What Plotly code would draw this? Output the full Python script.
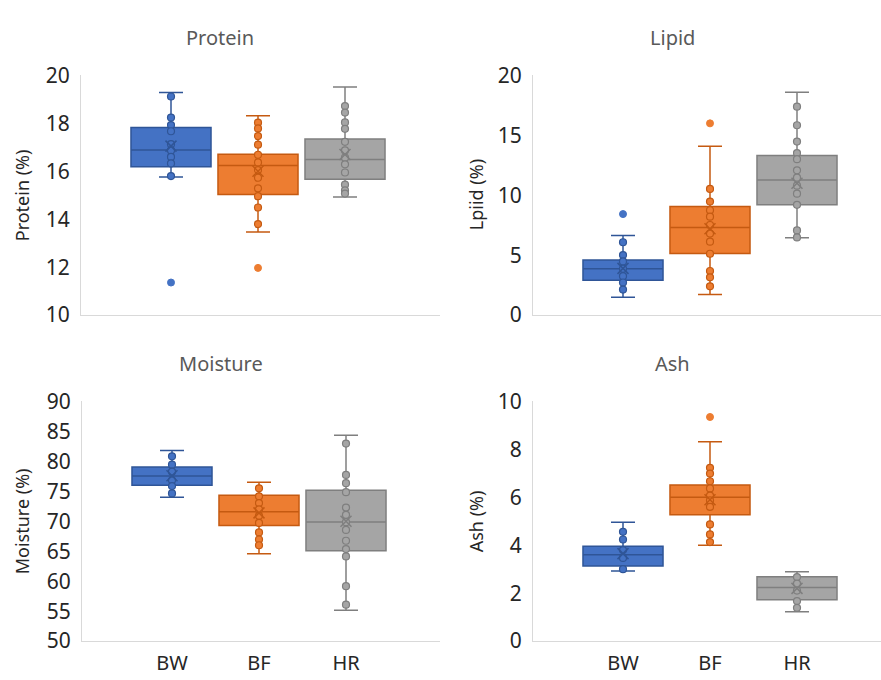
import plotly.graph_objects as go

groups = ["BW", "BF", "HR"]
fill_colors = ["#4472C4", "#ED7D31", "#A5A5A5"]
line_colors = ["#2F5597", "#C55A11", "#7F7F7F"]

# ---- Protein ----
protein_lower = [15.76, 13.47, 14.93]
protein_q1 = [16.19, 15.03, 15.67]
protein_median = [16.89, 16.24, 16.49]
protein_q3 = [17.83, 16.71, 17.35]
protein_upper = [19.29, 18.32, 19.52]
protein_mean = [17.05, 16.0, 16.7]
protein_bw = [19.12, 18.24, 17.93, 17.67, 17.13, 16.87, 16.6, 16.33, 15.8]
protein_bf = [18.03, 17.79, 17.47, 17.11, 16.69, 16.37, 16.05, 15.73, 15.29, 14.96, 14.49, 13.8]
protein_hr = [18.72, 18.45, 18.04, 17.77, 17.23, 16.87, 16.57, 16.29, 15.95, 15.44, 15.2, 15.07]
protein_outliers = [[11.36], [11.97], []]

# ---- Lipid ----
lipid_lower = [1.49, 1.71, 6.45]
lipid_q1 = [2.91, 5.15, 9.2]
lipid_median = [3.87, 7.31, 11.28]
lipid_q3 = [4.59, 9.07, 13.31]
lipid_upper = [6.64, 14.08, 18.59]
lipid_mean = [3.9, 7.2, 11.0]
lipid_bw = [6.08, 5.01, 4.48, 3.87, 3.25, 2.72, 2.13]
lipid_bf = [10.53, 9.47, 8.75, 8.21, 7.52, 6.8, 6.13, 5.12, 3.68, 3.15, 2.4]
lipid_hr = [17.39, 15.84, 14.48, 13.52, 13.01, 12.08, 11.47, 10.8, 10.13, 9.2, 7.07, 6.48]
lipid_outliers = [[8.43], [16.0], []]

# ---- Moisture ----
moisture_lower = [74.0, 64.56, 55.17]
moisture_q1 = [76.03, 69.31, 65.09]
moisture_median = [77.57, 71.6, 69.89]
moisture_q3 = [79.07, 74.32, 75.17]
moisture_upper = [81.79, 76.51, 84.35]
moisture_mean = [77.6, 71.4, 70.0]
moisture_bw = [80.83, 79.44, 78.27, 76.83, 75.87, 74.64]
moisture_bf = [75.49, 74.16, 73.04, 71.97, 70.91, 69.73, 68.13, 66.96, 66.0]
moisture_hr = [82.96, 77.73, 76.35, 74.85, 72.29, 71.07, 69.84, 68.56, 66.75, 65.36, 64.13, 59.17, 56.08]
moisture_outliers = [[], [], []]

# ---- Ash ----
ash_lower = [2.93, 4.0, 1.23]
ash_q1 = [3.13, 5.27, 1.73]
ash_median = [3.6, 6.0, 2.24]
ash_q3 = [3.96, 6.51, 2.68]
ash_upper = [4.96, 8.32, 2.89]
ash_mean = [3.65, 5.9, 2.2]
ash_bw = [4.56, 4.24, 3.8, 3.47, 3.0]
ash_bf = [7.23, 6.99, 6.67, 6.37, 6.07, 5.87, 5.6, 4.87, 4.45, 4.13]
ash_hr = [2.67, 2.4, 2.11, 1.67, 1.39]
ash_outliers = [[], [9.35], []]

panels = [
    dict(name="Protein", ytitle="Protein (%)", lower=protein_lower, q1=protein_q1, med=protein_median,
         q3=protein_q3, upper=protein_upper, mean=protein_mean, pts=[protein_bw, protein_bf, protein_hr],
         out=protein_outliers, yr=[10, 20], dt=2),
    dict(name="Lipid", ytitle="Lpiid (%)", lower=lipid_lower, q1=lipid_q1, med=lipid_median,
         q3=lipid_q3, upper=lipid_upper, mean=lipid_mean, pts=[lipid_bw, lipid_bf, lipid_hr],
         out=lipid_outliers, yr=[0, 20], dt=5),
    dict(name="Moisture", ytitle="Moisture (%)", lower=moisture_lower, q1=moisture_q1, med=moisture_median,
         q3=moisture_q3, upper=moisture_upper, mean=moisture_mean, pts=[moisture_bw, moisture_bf, moisture_hr],
         out=moisture_outliers, yr=[50, 90], dt=5),
    dict(name="Ash", ytitle="Ash (%)", lower=ash_lower, q1=ash_q1, med=ash_median,
         q3=ash_q3, upper=ash_upper, mean=ash_mean, pts=[ash_bw, ash_bf, ash_hr],
         out=ash_outliers, yr=[0, 10], dt=2),
]

W, H = 881, 680
positions = [-1, 0, 1]
# plot-area frames in pixels: (left, right, top, bottom, centre of middle box)
frames = [
    (81, 440, 63, 313, 258),
    (533, 881, 63, 313, 710),
    (82, 440, 403, 653, 259),
    (533, 881, 403, 653, 710),
]
ytitle_x = [22, 476, 22, 476]
title_pos = [(220, 23), (672, 23), (221, 363), (672, 363)]
spacing = 87.0

fig = go.Figure()
font_family = "Noto Sans"

for i, p in enumerate(panels):
    ax = "" if i == 0 else str(i + 1)
    xref, yref = "x" + ax, "y" + ax
    for g in range(3):
        fig.add_trace(go.Box(
            x=[positions[g]], q1=[p["q1"][g]], median=[p["med"][g]], q3=[p["q3"][g]],
            lowerfence=[p["lower"][g]], upperfence=[p["upper"][g]],
            width=0.92, whiskerwidth=0.3, boxpoints=False,
            fillcolor=fill_colors[g], line=dict(color=line_colors[g], width=1.5),
            xaxis=xref, yaxis=yref, showlegend=False, hoverinfo="skip"))
        pts = p["pts"][g]
        fig.add_trace(go.Scatter(
            x=[positions[g]] * len(pts), y=pts, mode="markers",
            marker=dict(size=7, color=fill_colors[g], line=dict(color=line_colors[g], width=1.2)),
            xaxis=xref, yaxis=yref, showlegend=False, hoverinfo="skip"))
        outs = p["out"][g]
        if outs:
            fig.add_trace(go.Scatter(
                x=[positions[g]] * len(outs), y=outs, mode="markers",
                marker=dict(size=7, color=fill_colors[g], line=dict(color=fill_colors[g], width=1)),
                xaxis=xref, yaxis=yref, showlegend=False, hoverinfo="skip"))
        fig.add_trace(go.Scatter(
            x=[positions[g]], y=[p["mean"][g]], mode="markers",
            marker=dict(size=11, symbol="x-thin", line=dict(color=line_colors[g], width=1.5)),
            xaxis=xref, yaxis=yref, showlegend=False, hoverinfo="skip"))

    left, right, top, bottom, center = frames[i]
    xr = [(left - center) / spacing, (right - center) / spacing]
    bottom_row = i >= 2
    fig.layout["xaxis" + ax] = dict(
        domain=[left / W, right / W], range=xr, anchor=yref,
        showgrid=False, zeroline=False, showline=True, linecolor="#D9D9D9", linewidth=1,
        tickvals=positions, ticktext=groups, showticklabels=bottom_row, ticks="",
        ticklabelstandoff=4,
        tickfont=dict(family=font_family, size=20, color="#262626"), fixedrange=True)
    fig.layout["yaxis" + ax] = dict(
        domain=[1 - bottom / H, 1 - top / H], range=p["yr"], anchor=xref,
        dtick=p["dt"], showgrid=False, zeroline=False, showline=True, linecolor="#D9D9D9",
        linewidth=1, ticks="", ticklabelstandoff=6,
        tickfont=dict(family=font_family, size=21, color="#262626"), fixedrange=True)
    fig.add_annotation(x=title_pos[i][0] / W, y=1 - title_pos[i][1] / H, xref="paper", yref="paper",
                       text=p["name"], showarrow=False, xanchor="center", yanchor="middle",
                       font=dict(family=font_family, size=20, color="#595959"))
    fig.add_annotation(x=ytitle_x[i] / W, y=1 - (top + bottom) / 2 / H, xref="paper", yref="paper",
                       text=p["ytitle"], showarrow=False, textangle=-90, xanchor="center", yanchor="middle",
                       font=dict(family=font_family, size=18, color="#262626"))

fig.update_layout(width=W, height=H, margin=dict(l=0, r=0, t=0, b=0),
                  paper_bgcolor="white", plot_bgcolor="white", showlegend=False)
fig.write_html("out.html")
